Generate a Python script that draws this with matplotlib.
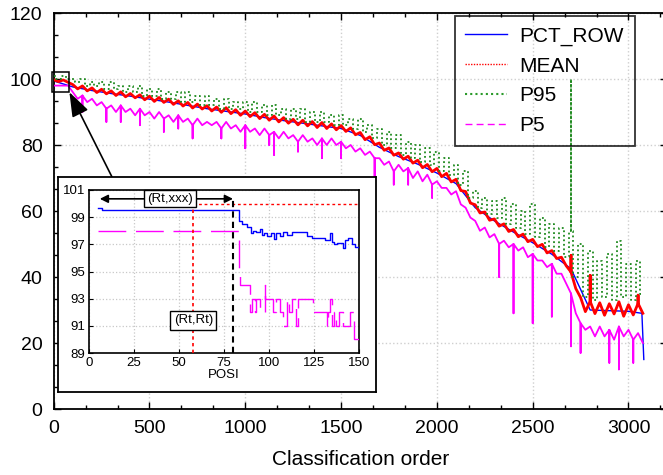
import numpy as np
import matplotlib
matplotlib.use("Agg")
import matplotlib.pyplot as plt
from matplotlib.lines import Line2D
from matplotlib.patches import Rectangle
from matplotlib.ticker import AutoMinorLocator

plt.rcParams['font.family'] = ['Liberation Sans', 'DejaVu Sans']

# ---------------- data (main chart, sampled every 25 positions) ----------------
order = np.arange(0, 3100, 25)

mean_vals = [
    99.8, 99.2, 99.7, 99.0, 98.3, 97.0, 97.9, 96.4,
    97.3, 95.9, 96.9, 95.5, 96.4, 95.0, 96.1, 94.6,
    95.6, 94.3, 95.2, 93.7, 94.8, 93.2, 94.4, 92.9,
    93.9, 92.3, 93.4, 91.8, 92.9, 91.2, 92.4, 90.9,
    91.9, 90.3, 91.5, 89.9, 91.3, 89.5, 90.7, 89.0,
    90.3, 88.6, 89.8, 88.0, 89.3, 87.5, 88.8, 87.0,
    88.3, 86.6, 87.8, 86.1, 87.5, 85.8, 87.1, 85.3,
    86.8, 85.0, 86.4, 84.6, 85.9, 84.1, 85.2, 83.1,
    83.8, 81.6, 82.5, 80.1, 80.6, 78.4, 79.1, 76.9,
    77.6, 75.7, 76.6, 74.5, 75.4, 73.1, 74.1, 71.9,
    72.9, 70.4, 71.4, 68.8, 69.6, 66.2, 65.9, 62.4,
    61.9, 59.4, 59.7, 57.2, 57.6, 55.4, 56.1, 53.8,
    54.4, 52.2, 53.0, 50.7, 51.4, 49.2, 49.9, 47.3,
    48.0, 45.6, 46.0, 43.4, 41.5, 36.5, 33.8, 29.5,
    32.6, 28.9, 32.2, 28.4, 31.9, 28.8, 32.5, 28.1,
    31.6, 28.5, 32.0, 29.0,
]
mean_spike_x = [2700, 2800, 3050]
mean_spike_y = [46.5, 40.5, 34.5]

p95_vals = [
    101, 100, 101, 100, 100, 99, 100, 98,
    99, 98, 99, 97, 99, 97, 98, 96,
    98, 96, 98, 95, 97, 95, 97, 94,
    96, 94, 96, 93, 96, 93, 95, 92,
    95, 92, 94, 91, 94, 91, 93, 91,
    93, 90, 93, 90, 92, 89, 92, 89,
    91, 88, 91, 88, 91, 87, 90, 87,
    90, 87, 89, 86, 89, 86, 88, 85,
    88, 84, 86, 82, 85, 80, 84, 79,
    83, 77, 81, 76, 80, 75, 79, 74,
    78, 72, 76, 71, 74, 68, 72, 64,
    66, 61, 64, 59, 63, 58, 64, 56,
    62, 55, 60, 53, 62, 52, 58, 49,
    56, 48, 55, 46, 54, 40, 50, 34,
    48, 33, 45, 34, 47, 33, 51, 34,
    44, 33, 45, 35,
]
p95_spike_x = [2700]
p95_spike_y = [100]

p5_vals = [
    98, 98, 98, 98, 96, 94, 95, 93,
    94, 92, 93, 91, 92, 90, 92, 90,
    91, 89, 91, 89, 90, 88, 90, 88,
    89, 87, 89, 87, 88, 86, 88, 86,
    87, 86, 87, 85, 87, 85, 86, 84,
    86, 84, 85, 83, 85, 83, 84, 82,
    84, 82, 83, 81, 83, 81, 82, 80,
    82, 80, 82, 80, 81, 79, 80, 78,
    79, 77, 78, 76, 76, 74, 75, 72,
    74, 72, 73, 70, 72, 69, 71, 68,
    69, 67, 67, 65, 66, 62, 61, 58,
    57, 54, 55, 52, 53, 50, 51, 49,
    50, 48, 49, 46, 47, 45, 45, 43,
    44, 41, 41, 38, 35, 29, 26, 24,
    25, 22, 25, 22, 24, 21, 25, 22,
    24, 21, 23, 20,
]
p5_spike_x = [150, 275, 350, 450, 575, 650, 725, 875, 1000, 1125, 1150, 1275, 1400, 1500,
              1675, 1775, 1850, 1975, 2325, 2400, 2500, 2600, 2700, 2750, 2900, 2950, 3025]
p5_spike_y = [90, 87, 87, 86, 84, 85, 82, 82, 79, 80, 77, 78, 76, 76,
              70, 68, 68, 64, 40, 29, 26, 28, 19, 17, 14, 12, 14]

pct_order = np.r_[np.arange(0, 3001, 100), 3070, 3080]
pct_vals = [99.4, 97.6, 96.5, 95.6, 94.8, 93.9, 93.0, 92.0, 91.0, 90.2,
            89.4, 88.3, 87.4, 86.6, 85.8, 85.0, 82.9, 79.3, 76.5, 74.2,
            71.5, 68.3, 61.0, 57.0, 53.6, 50.4, 46.9, 42.5, 30.0, 29.8,
            29.6, 29.0, 15.0]

# ---------------- data (inset) ----------------
ins_pct_x = [5, 7, 30, 55, 83, 83.5, 85, 87.5, 90, 91, 93, 95, 96, 97, 99, 101, 103, 104, 106, 108,
             110, 113, 117, 121, 124, 128, 131, 134, 135, 136, 138, 141, 142, 144, 146, 148, 150]
ins_pct_y = [99.7, 99.5, 99.55, 99.5, 99.5, 98.7, 98.5, 98.3, 97.8, 98.0, 97.9, 98.1, 97.7, 97.8, 97.6,
             97.8, 97.4, 97.8, 97.6, 97.9, 97.7, 97.9, 97.9, 97.6, 97.5, 97.5, 97.3, 97.8, 97.2, 97.0,
             97.1, 96.7, 97.3, 97.5, 97.0, 96.8, 96.7]
ins_p5_x = [5, 83.5, 84, 89.5, 90.5, 92, 93, 95, 97.5, 98, 102, 104, 106, 108, 110, 111, 113, 115,
            116, 117, 124.5, 128, 132, 133, 134, 135, 136, 137, 139, 141, 143, 145, 147, 150]
ins_p5_y = [98, 95, 94, 92, 93, 92, 93, 92, 94, 93, 92, 93, 92, 91, 93, 92, 93, 91,
            93, 93, 92, 92, 91, 92, 93, 91, 92, 91, 92, 91, 91, 92, 90, 90]
ins_mean_x = [58, 150]
ins_mean_y = [100, 100]
rt_rt = 58
rt_xxx = 80
ins_start = 6

labels = ['PCT_ROW', 'MEAN', 'P95', 'P5']


def add_spikes(x, y, sx, sy):
    spikes = dict(zip(sx, sy))
    xs, ys = [], []
    for xi, yi in zip(x, y):
        xs.append(xi); ys.append(yi)
        if xi in spikes:
            xs += [xi, xi]; ys += [spikes[xi], yi]
    return np.array(xs), np.array(ys)


W, H = 663, 475
fig = plt.figure(figsize=(W / 100, H / 100), dpi=100)

# ---------------- main axes ----------------
AX_L, AX_R, AX_T, AX_B = 53.7, 666.8, 13, 409
ax = fig.add_axes([AX_L / W, 1 - AX_B / H, (AX_R - AX_L) / W, (AX_B - AX_T) / H])
ax.set_xlim(0, 3200)
ax.set_ylim(0, 120)
ax.set_xticks(range(0, 3001, 500))
ax.set_yticks(range(0, 121, 20))
ax.xaxis.set_minor_locator(AutoMinorLocator(3))
ax.yaxis.set_minor_locator(AutoMinorLocator(3))
ax.tick_params(which='both', direction='in', top=True, right=True, labelsize=14, pad=8)
ax.tick_params(which='major', length=5, width=1)
ax.tick_params(which='minor', length=3, width=1)
ax.grid(True, which='major', color='#cfcfcf', linestyle=':', linewidth=1)
for s in ax.spines.values():
    s.set_linewidth(1.3)
ax.set_xlabel('Classification order', fontsize=15, labelpad=9)

mx, my = add_spikes(order, mean_vals, mean_spike_x, mean_spike_y)
gx, gy = add_spikes(order, p95_vals, p95_spike_x, p95_spike_y)
qx, qy = add_spikes(order, p5_vals, p5_spike_x, p5_spike_y)

ax.plot(pct_order, pct_vals, color='blue', lw=1.0, zorder=2)
ax.plot(mx, my, color='red', lw=2.0, zorder=3)
ax.plot(gx, gy, color='#1f8a1f', lw=1.3, ls=(0, (1, 1.5)), drawstyle='steps-mid', zorder=3.5)
ax.plot(qx, qy, color='magenta', lw=1.3, zorder=4)

ax.add_patch(Rectangle((-8, 96), 90, 6, fill=False, ec='black', lw=1.1, clip_on=False, zorder=10))
ax.annotate('', xy=(82, 96), xycoords='data',
            xytext=(112 / W, 1 - 177 / H), textcoords='figure fraction',
            arrowprops=dict(arrowstyle='-|>,head_length=0.5,head_width=0.18', color='black',
                            lw=1.2, mutation_scale=30, shrinkA=0, shrinkB=0),
            annotation_clip=False, zorder=10)

handles = [Line2D([], [], color='blue', lw=1),
           Line2D([], [], color='red', lw=1, ls=(0, (1, 1))),
           Line2D([], [], color='#2a9a2a', lw=1.5, ls=(0, (1, 1.5))),
           Line2D([], [], color='magenta', lw=1, ls=(0, (5, 3)))]
leg_x = (455 - AX_L) / (AX_R - AX_L)
leg_y = (AX_B - 16) / (AX_B - AX_T)
leg = ax.legend(handles, labels, loc='upper left', bbox_to_anchor=(leg_x, leg_y),
                fontsize=15, fancybox=False, edgecolor='black',
                facecolor='none', borderaxespad=0, borderpad=0.5,
                labelspacing=0.52, handlelength=2.0, handletextpad=0.6)
leg.get_frame().set_linewidth(1.3)
leg.set_zorder(20)

# ---------------- inset ----------------
box = fig.add_axes([58 / W, 1 - 392 / H, 318 / W, 215 / H], zorder=5)
box.set_xticks([]); box.set_yticks([])
box.set_facecolor('white')
for s in box.spines.values():
    s.set_linewidth(1.3)

iax = fig.add_axes([89 / W, 1 - 353 / H, 270 / W, 163 / H], zorder=6)
iax.set_xlim(0, 150)
iax.set_ylim(89, 101)
iax.set_xticks(range(0, 151, 25))
iax.set_yticks(range(89, 102, 2))
iax.tick_params(direction='in', labelsize=9.5, length=3, pad=3)
iax.grid(True, color='#c8c8c8', linestyle=':', linewidth=0.9)
for s in iax.spines.values():
    s.set_linewidth(1.2)
iax.set_xlabel('POSI', fontsize=9.5, labelpad=0)

iax.step(ins_pct_x, ins_pct_y, where='post', color='blue', lw=1.0, zorder=3)
iax.step(ins_p5_x, ins_p5_y, where='post', color='magenta', lw=1.0, ls=(0, (20, 7)), zorder=3)
iax.plot(ins_mean_x, ins_mean_y, color='red', lw=1.0, ls=(0, (2, 2)), zorder=3)
iax.plot([rt_rt, rt_rt], [89, 100], color='red', lw=1.2, ls=(0, (2, 2)), zorder=3)
iax.plot([rt_xxx, rt_xxx], [89, 100.5], color='black', lw=1.5, ls=(0, (3, 2)), zorder=3)
iax.annotate('', xy=(ins_start, 100.35), xytext=(rt_xxx, 100.35),
             arrowprops=dict(arrowstyle='<|-|>', color='black', lw=1.2, mutation_scale=12,
                             shrinkA=0, shrinkB=0), zorder=4)
iax.text(45, 100.35, '(Rt,xxx)', ha='center', va='center', fontsize=9.5, zorder=5,
         bbox=dict(boxstyle='square,pad=0.2', fc='white', ec='black', lw=1))
iax.text(58, 91.4, '(Rt,Rt)', ha='center', va='center', fontsize=9.5, zorder=5,
         bbox=dict(boxstyle='square,pad=0.25', fc='white', ec='black', lw=1))

fig.savefig('out.png', dpi=100)
